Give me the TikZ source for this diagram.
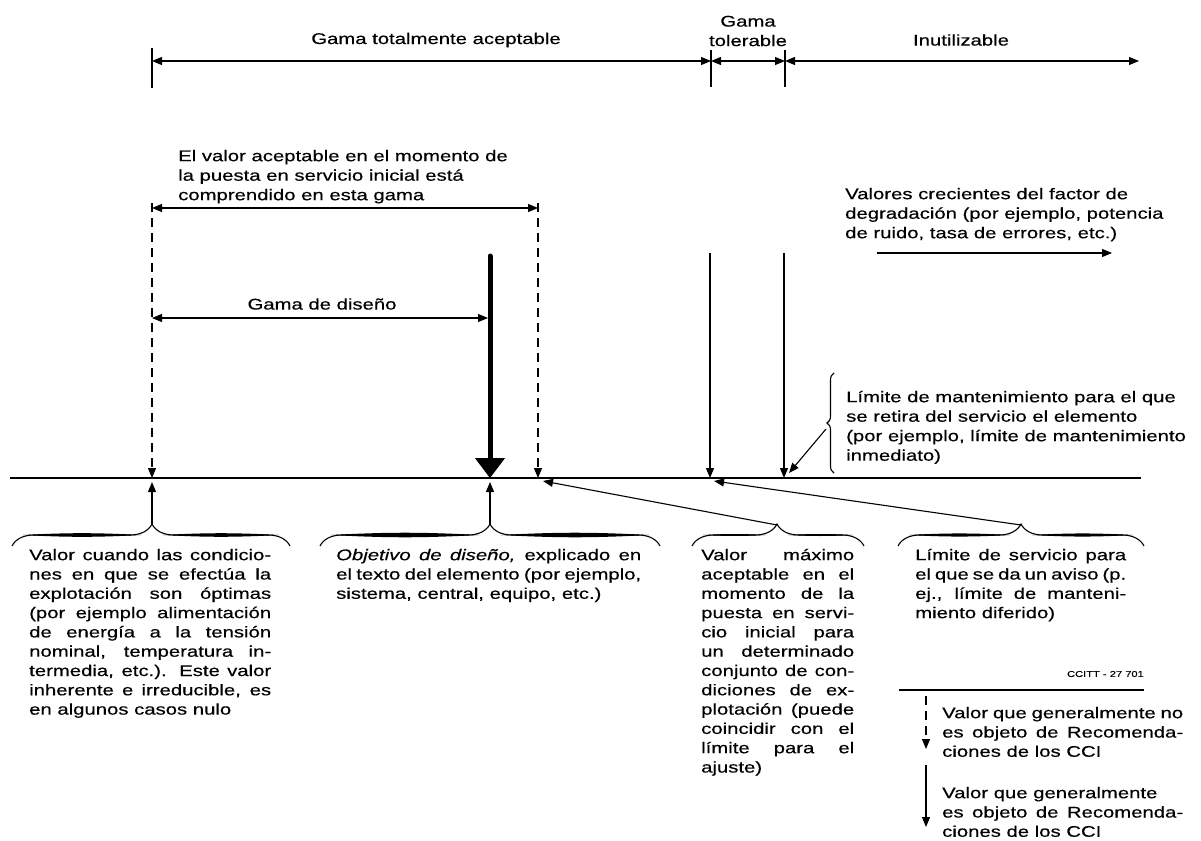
\documentclass[tikz,border=0pt]{standalone}
\usepackage{fontspec}
\setmainfont{Liberation Sans}[FakeStretch=1.31,FakeBold=0.4]
\usetikzlibrary{arrows.meta,decorations.pathreplacing}
\newcommand{\jl}[2]{\makebox[#1][s]{#2}}
\newcommand{\lastln}[2]{\makebox[#1][l]{#2}}
\newcommand{\fr}{\rule{0pt}{13pt}}
% horizontal brace: left x, tip x, right x, path y
\newcommand{\hbrace}[4]{%
  \draw[decorate, decoration={brace, amplitude=22pt, aspect={(#2-#1)/(#3-#1)}}, line width=1.1pt] (#1,#4) -- (#3,#4);
  \fill ({#1+11},{#4-11}) to[bend left=3] ({#2-11},{#4-11}) to[bend left=3] ({#1+11},{#4-11});
  \fill ({#2+11},{#4-11}) to[bend left=3] ({#3-11},{#4-11}) to[bend left=3] ({#2+11},{#4-11});
}
\begin{document}
\begin{tikzpicture}[x=1pt,y=-1pt,
  thinl/.style={line width=1.1pt},
  tri/.style={thinl,-{Triangle[length=10pt,width=8pt]}},
  dbl/.style={thinl,{Triangle[length=10pt,width=8pt]}-{Triangle[length=10pt,width=8pt]}},
  dsh/.style={line width=1.1pt, dash pattern=on 9pt off 6pt,-{Triangle[length=10pt,width=8pt]}},
  lbl/.style={inner sep=0pt, font=\fontsize{15.5}{19.5}\selectfont, align=left},
  blk/.style={inner sep=0pt, font=\fontsize{15.5}{19.3}\selectfont, align=left, anchor=north west},
]
\useasboundingbox (0,0) rectangle (1201,840);

% ---------- top scale ----------
\coordinate (k0a) at (152,48); \coordinate (k0b) at (152,88);
\coordinate (k1a) at (711,50); \coordinate (k1b) at (711,87);
\coordinate (k2a) at (785,50); \coordinate (k2b) at (785,87);
\draw[thinl] (k0a) -- (k0b);
\draw[thinl] (k1a) -- (k1b);
\draw[thinl] (k2a) -- (k2b);
\coordinate (s0) at (152,61); \coordinate (s1) at (711,61);
\coordinate (s2) at (785,61); \coordinate (s3) at (1139,61);
\draw[dbl] (s0) -- (s1);
\draw[dbl] (s1) -- (s2);
\draw[dbl] (s2) -- (s3);
\node[lbl] (gta) at (436,40) {Gama totalmente aceptable};
\node[lbl, align=center] (gtol) at (748,31) {Gama\\tolerable};
\node[lbl] (inut) at (961,40) {Inutilizable};

% ---------- acceptance range ----------
\node[lbl, anchor=north west] (acc) at (178,148) {\fr El valor aceptable en el momento de\\la puesta en servicio inicial está\\comprendido en esta gama};
\coordinate (r0) at (152,208); \coordinate (r1) at (538,208);
\draw[dbl] (r0) -- (r1);
\coordinate (d0) at (152,203); \coordinate (d0e) at (152,478);
\coordinate (d1) at (538,203); \coordinate (d1e) at (538,478);
\draw[dsh] (d0) -- (d0e);
\draw[dsh] (d1) -- (d1e);

% design range
\node[lbl] (gdd) at (322,304) {Gama de diseño};
\coordinate (g0) at (152,318); \coordinate (g1) at (488,318);
\draw[dbl] (g0) -- (g1);
\coordinate (obj0) at (490,256); \coordinate (obj1) at (490,478);
\draw[line width=5pt, line cap=round] (obj0) -- (490,462);
\draw[line width=1pt, -{Triangle[length=20pt,width=30pt]}] (490,456) -- (obj1);

% tolerable limits
\coordinate (v0) at (710,253); \coordinate (v0e) at (710,478);
\coordinate (v1) at (784,253); \coordinate (v1e) at (784,478);
\draw[tri] (v0) -- (v0e);
\draw[tri] (v1) -- (v1e);

% degradation factor
\node[lbl, anchor=north west] (deg) at (845,186) {\fr Valores crecientes del factor de\\degradación (por ejemplo, potencia\\de ruido, tasa de errores, etc.)};
\coordinate (f0) at (877,253); \coordinate (f1) at (1112,253);
\draw[tri] (f0) -- (f1);

% maintenance limit
\draw[decorate, decoration={brace, amplitude=7pt}, line width=1.1pt] (834,473) -- (834,373);
\coordinate (mb) at (826,429); \coordinate (mt) at (789,473);
\draw[tri] (mb) -- (mt);
\node[lbl, anchor=north west] (mant) at (846,389) {\fr Límite de mantenimiento para el que\\se retira del servicio el elemento\\(por ejemplo, límite de mantenimiento\\inmediato)};

% main axis
\coordinate (ax0) at (10,478); \coordinate (ax1) at (1141,478);
\draw[line width=2pt] (ax0) -- (ax1);

% ---------- bottom braces ----------
\hbrace{12}{152}{290}{546}
\hbrace{320}{490}{660}{546}
\hbrace{692}{777}{864}{546}
\hbrace{898}{1021}{1144}{546}
\coordinate (b1) at (152,525); \coordinate (b1e) at (152,482);
\coordinate (b2) at (490,525); \coordinate (b2e) at (490,482);
\coordinate (b3) at (777,525); \coordinate (b3e) at (543,481);
\coordinate (b4) at (1021,525); \coordinate (b4e) at (714,481);
\draw[tri] (b1) -- (b1e);
\draw[tri] (b2) -- (b2e);
\draw[tri] (b3) -- (b3e);
\draw[tri] (b4) -- (b4e);

\node[blk] (t1) at (29,547) {\fr\jl{242pt}{Valor cuando las condicio-}\\
\jl{242pt}{nes en que se efectúa la}\\
\jl{242pt}{explotación son óptimas}\\
\jl{242pt}{(por ejemplo alimentación}\\
\jl{242pt}{de energía a la tensión}\\
\jl{242pt}{nominal, temperatura in-}\\
\jl{242pt}{termedia, etc.). Este valor}\\
\jl{242pt}{inherente e irreducible, es}\\
\lastln{242pt}{en algunos casos nulo}};

\node[blk] (t2) at (336,547) {\fr\jl{305pt}{\textit{Objetivo de diseño,} explicado en}\\
\jl{305pt}{el texto del elemento (por ejemplo,}\\
\lastln{305pt}{sistema, central, equipo, etc.)}};

\node[blk] (t3) at (701,547) {\fr\jl{153pt}{Valor máximo}\\
\jl{153pt}{aceptable en el}\\
\jl{153pt}{momento de la}\\
\jl{153pt}{puesta en servi-}\\
\jl{153pt}{cio inicial para}\\
\jl{153pt}{un determinado}\\
\jl{153pt}{conjunto de con-}\\
\jl{153pt}{diciones de ex-}\\
\jl{153pt}{plotación (puede}\\
\jl{153pt}{coincidir con el}\\
\jl{153pt}{límite para el}\\
\lastln{153pt}{ajuste)}};

\node[blk] (t4) at (915,547) {\fr\jl{211pt}{Límite de servicio para}\\
\jl{211pt}{el que se da un aviso (p.}\\
\jl{211pt}{ej., límite de manteni-}\\
\lastln{211pt}{miento diferido)}};

% ---------- legend ----------
\node[inner sep=0pt, anchor=east, font=\fontsize{8.5}{9}\selectfont] (ccitt) at (1144,674) {CCITT - 27 701};
\coordinate (lg0) at (899,690); \coordinate (lg1) at (1144,690);
\draw[line width=1.4pt] (lg0) -- (lg1);
\coordinate (la0) at (926,696); \coordinate (la1) at (926,749);
\draw[dsh] (la0) -- (la1);
\node[blk] (lt1) at (942,705) {\fr\jl{241pt}{Valor que generalmente no}\\
\jl{241pt}{es objeto de Recomenda-}\\
\lastln{241pt}{ciones de los CCI}};
\coordinate (lb0) at (926,765); \coordinate (lb1) at (926,827);
\draw[tri] (lb0) -- (lb1);
\node[blk] (lt2) at (942,785) {\fr\lastln{241pt}{Valor que generalmente}\\
\jl{241pt}{es objeto de Recomenda-}\\
\lastln{241pt}{ciones de los CCI}};
\end{tikzpicture}
\end{document}
